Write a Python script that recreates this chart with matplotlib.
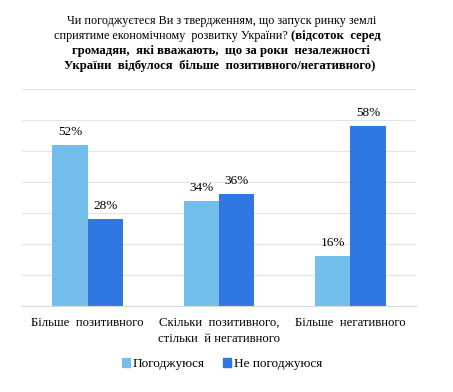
import numpy as np
import matplotlib
matplotlib.use('Agg')
import matplotlib.pyplot as plt
from matplotlib.patches import Patch

plt.rcParams['font.family'] = ['Liberation Serif', 'DejaVu Serif']

categories = ['Більше  позитивного', 'Скільки  позитивного,\nстільки  й негативного', 'Більше  негативного']
agree = [52, 34, 16]
disagree = [28, 36, 58]
series_names = ['Погоджуюся', 'Не погоджуюся']
c_light = '#74BEEB'
c_dark = '#2F78E2'

fig = plt.figure(figsize=(4.53, 3.92), dpi=100)
ax = fig.add_axes([22 / 453, 1 - 306 / 392, 394 / 453, 217 / 392])

x = np.arange(len(categories))
w = 0.27
b1 = ax.bar(x - w / 2, agree, w, color=c_light, zorder=2)
b2 = ax.bar(x + w / 2, disagree, w, color=c_dark, zorder=2)
for bars, vals in ((b1, agree), (b2, disagree)):
    for r, v in zip(bars, vals):
        ax.annotate(f'{v}%', (r.get_x() + r.get_width() / 2, v), xytext=(0, 5),
                    textcoords='offset points', ha='center', va='bottom', fontsize=9.5)

ax.set_xlim(-0.5, 2.5)
ax.set_ylim(0, 70)
ax.set_yticks(np.arange(0, 71, 10))
ax.yaxis.grid(True, color='#E3E3E3', lw=0.8, zorder=0)
ax.tick_params(axis='y', left=False, labelleft=False)
ax.tick_params(axis='x', length=0, pad=8, labelsize=9.2)
ax.set_xticks(x)
ax.set_xticklabels(categories, linespacing=1.4)
for s in ['top', 'right', 'left']:
    ax.spines[s].set_visible(False)
ax.spines['bottom'].set_color('#D9D9D9')

# title: first part regular, rest bold
fs_reg = 8.7
fs_bold = 9.2
fig.text(222 / 453, 1 - 21 / 392, 'Чи погоджуєтеся Ви з твердженням, що запуск ринку землі',
         ha='center', va='center', fontsize=fs_reg)
fig.text(288 / 453, 1 - 36 / 392, 'сприятиме економічному  розвитку України?',
         ha='right', va='center', fontsize=fs_reg)
fig.text(291 / 453, 1 - 36 / 392, '(відсоток  серед',
         ha='left', va='center', fontsize=fs_bold, fontweight='bold')
fig.text(221 / 453, 1 - 51 / 392, 'громадян,  які вважають,  що за роки  незалежності',
         ha='center', va='center', fontsize=fs_bold, fontweight='bold')
fig.text(220 / 453, 1 - 66 / 392, 'України  відбулося  більше  позитивного/негативного)',
         ha='center', va='center', fontsize=fs_bold, fontweight='bold')

handles = [Patch(color=c_light), Patch(color=c_dark)]
fig.legend(handles, series_names, loc='center', bbox_to_anchor=(222 / 453, 1 - 364 / 392),
           ncol=2, frameon=False, fontsize=9.5, handlelength=0.6, handleheight=0.6,
           handletextpad=0.2, columnspacing=1.4)

fig.savefig('out.png', dpi=100)
